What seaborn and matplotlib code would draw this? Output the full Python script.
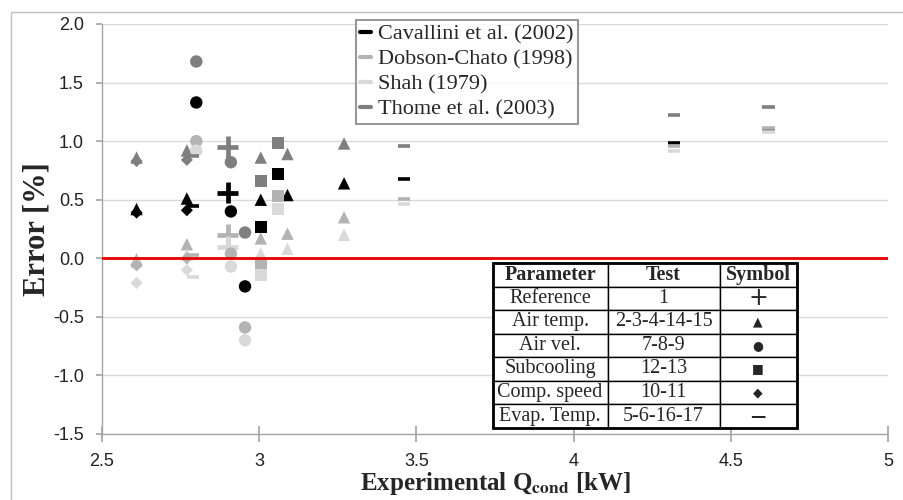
import numpy as np
import pandas as pd
import matplotlib
matplotlib.use("Agg")
import matplotlib.pyplot as plt
from matplotlib.lines import Line2D
from matplotlib.patches import Rectangle
import seaborn as sns

# correlations and their grey levels
models = ["Cavallini et al. (2002)", "Dobson-Chato (1998)", "Shah (1979)", "Thome et al. (2003)"]
model_colors = ["#000000", "#b3b3b3", "#d9d9d9", "#7f7f7f"]

# test groups (table rows)
params = ["Reference", "Air temp.", "Air vel.", "Subcooling", "Comp. speed", "Evap. Temp."]
test_ids = ["1", "2-3-4-14-15", "7-8-9", "12-13", "10-11", "5-6-16-17"]
symbols = ["+", "\u25B2", "\u25CF", "\u25A0", "\u25C6", "\u2014"]

# experimental Q_cond [kW] per group
ref_q = [2.90]
airt_q = [2.61, 2.77, 3.005, 3.09, 3.27]
airv_q = [2.80, 2.91, 2.955]
sub_q = [3.005, 3.06]
comp_q = [2.61, 2.77]
evap_q = [2.79, 3.46, 4.32, 4.62]

# error [%] per group, one list per correlation (Cavallini, Dobson, Shah, Thome)
ref_err = [[0.56], [0.20], [0.10], [0.95]]
airt_err = [[0.42, 0.51, 0.50, 0.54, 0.64],
            [-0.01, 0.12, 0.17, 0.21, 0.35],
            [-0.03, 0.03, 0.04, 0.08, 0.20],
            [0.86, 0.92, 0.86, 0.89, 0.98]]
airv_err = [[1.33, 0.40, -0.24],
            [1.00, 0.04, -0.59],
            [0.92, -0.07, -0.70],
            [1.68, 0.82, 0.22]]
sub_err = [[0.27, 0.72],
           [-0.05, 0.53],
           [-0.14, 0.42],
           [0.66, 0.98]]
comp_err = [[0.39, 0.41],
            [-0.06, 0.00],
            [-0.21, -0.10],
            [0.83, 0.84]]
evap_err = [[0.45, 0.68, 0.98, 1.10],
            [0.03, 0.51, 0.96, 1.11],
            [-0.16, 0.46, 0.92, 1.08],
            [0.87, 0.96, 1.22, 1.29]]

groups = [
    (ref_q, ref_err, "+", 230, 3.4),
    (airt_q, airt_err, "^", 80, 0),
    (airv_q, airv_err, "o", 80, 0),
    (sub_q, sub_err, "s", 75, 0),
    (comp_q, comp_err, "D", 38, 0),
    (evap_q, evap_err, "_", 80, 2.6),
]

sns.set_theme(style="white")
plt.rcParams["font.family"] = ["Liberation Sans", "DejaVu Sans"]
plt.rcParams["mathtext.fontset"] = "stix"

fig = plt.figure(figsize=(9.04, 5.0), dpi=100)
ax = fig.add_axes([0.1128, 0.132, 0.8695, 0.82])

palette = dict(zip(models, model_colors))
for q, err, mk, size, lw in groups:
    rows = []
    for m, vals in zip(models, err):
        for xv, yv in zip(q, vals):
            rows.append({"Q": xv, "Error": yv, "Model": m})
    df = pd.DataFrame(rows)
    kws = dict(marker=mk, s=size, legend=False)
    if lw > 0:
        kws["linewidth"] = lw
    else:
        kws["linewidth"] = 0
        kws["edgecolor"] = "none"
    sns.scatterplot(data=df, x="Q", y="Error", hue="Model", hue_order=models,
                    palette=palette, ax=ax, zorder=3, **kws)

ax.axhline(0, color="#e60000", lw=2, zorder=4)

ax.set_xlim(2.5, 5)
ax.set_ylim(-1.5, 2.0)
ax.set_xticks([2.5, 3, 3.5, 4, 4.5, 5])
ax.set_xticklabels(["2.5", "3", "3.5", "4", "4.5", "5"])
ax.set_yticks(np.arange(-1.5, 2.01, 0.5))
ax.set_yticklabels([f"{v:.1f}" for v in np.arange(-1.5, 2.01, 0.5)])
ax.yaxis.grid(True, color="#d9d9d9", lw=1)
ax.set_axisbelow(True)
for side in ["top", "right"]:
    ax.spines[side].set_visible(False)
for side in ["left", "bottom"]:
    ax.spines[side].set_color("#a6a6a6")
    ax.spines[side].set_linewidth(1)
ax.tick_params(axis="y", direction="out", length=4, color="#a6a6a6",
               labelsize=13, labelcolor="#222222", pad=9, left=True)
ax.tick_params(axis="x", direction="inout", length=12, color="#a6a6a6",
               labelsize=13, labelcolor="#222222", pad=8, bottom=True)

ax.set_xlabel(r"Experimental Q$_{\mathbf{cond}}$ [kW]", family="Liberation Serif",
              fontweight="bold", fontsize=18, labelpad=0)
ax.set_ylabel("Error [%]", family="Liberation Serif", fontweight="bold",
              fontsize=22, labelpad=1)

# correlation legend
handles = [Line2D([0], [0], color=c, lw=3) for c in model_colors]
leg = ax.legend(handles, models, loc="upper left", bbox_to_anchor=(0.323, 1.01),
                prop={"family": "Liberation Serif", "size": 16}, frameon=True,
                fancybox=False, handlelength=0.5, handletextpad=0.3,
                borderpad=0.2, labelspacing=0.2, borderaxespad=0)
leg.get_frame().set_edgecolor("#7f7f7f")
leg.get_frame().set_linewidth(1.5)
leg.set_zorder(6)

# parameter table
cell_text = [[p, t, s] for p, t, s in zip(params, test_ids, symbols)]
tab = ax.table(cellText=cell_text, colLabels=["Parameter", "Test", "Symbol"],
               cellLoc="center", bbox=[0.497, 0.015, 0.387, 0.402],
               colWidths=[0.378, 0.368, 0.254], zorder=6)
tab.auto_set_font_size(False)
for (r, c), cell in tab.get_celld().items():
    cell.set_linewidth(1)
    cell.set_edgecolor("black")
    txt = cell.get_text()
    txt.set_fontfamily(["Liberation Serif", "DejaVu Sans"])
    txt.set_fontsize(14.5)
    if r == 0:
        txt.set_fontweight("bold")
    if c == 2 and r > 0:
        txt.set_fontfamily(["DejaVu Sans"])
        txt.set_fontsize({1: 17, 6: 11}.get(r, 9))
        if r == 6:
            txt.set_fontweight("bold")
# thicker outer frame
ax.add_patch(Rectangle((0.497, 0.015), 0.387, 0.402, transform=ax.transAxes,
                       fill=False, edgecolor="black", lw=2, zorder=7))

# outer figure border
fig.patches.append(Rectangle((11 / 904, -0.1), 1.2, 1.1 - 12 / 500,
                             transform=fig.transFigure, fill=False,
                             edgecolor="#bfbfbf", lw=1))

fig.savefig("out.png", dpi=100)
